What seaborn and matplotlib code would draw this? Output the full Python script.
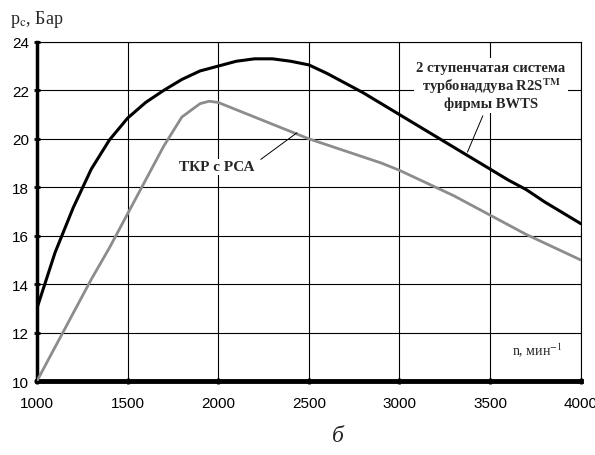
import pandas as pd
import matplotlib
matplotlib.use("Agg")
from matplotlib import pyplot as plt
import seaborn as sns

# engine speed, rpm
n_rpm = [1000, 1100, 1200, 1300, 1400, 1500, 1600, 1700, 1800, 1900, 1950, 2000,
         2100, 2200, 2300, 2400, 2500, 2600, 2700, 2800, 2900, 3000, 3100, 3200,
         3300, 3400, 3500, 3600, 3700, 3800, 3900, 4000]
# boost pressure, two-stage R2S system
p_r2s = [13.0, 15.3, 17.15, 18.75, 19.95, 20.85, 21.5, 22.0, 22.45, 22.8, 22.9, 23.0,
         23.2, 23.3, 23.3, 23.2, 23.05, 22.7, 22.3, 21.9, 21.45, 21.0, 20.55, 20.1,
         19.65, 19.2, 18.75, 18.3, 17.9, 17.4, 16.95, 16.5]
# boost pressure, turbocharger with variable nozzle
p_tkr = [10.0, 11.4, 12.8, 14.2, 15.5, 16.9, 18.3, 19.7, 20.9, 21.45, 21.55, 21.5,
         21.2, 20.9, 20.6, 20.3, 20.0, 19.75, 19.5, 19.25, 19.0, 18.7, 18.35, 18.0,
         17.65, 17.25, 16.85, 16.45, 16.05, 15.7, 15.35, 15.0]

x_ticks = [1000, 1500, 2000, 2500, 3000, 3500, 4000]
y_ticks = [10, 12, 14, 16, 18, 20, 22, 24]

df = pd.DataFrame({"n": n_rpm * 2,
                   "p": p_r2s + p_tkr,
                   "sys": ["r2s"] * len(n_rpm) + ["tkr"] * len(n_rpm)})

sns.set_style("white")
plt.rcParams["font.family"] = ["Liberation Sans", "DejaVu Sans"]
plt.rcParams["mathtext.fontset"] = "stix"

fig = plt.figure(figsize=(5.95, 4.56), dpi=100)
ax = fig.add_axes([0.062, 0.162, 0.914, 0.744])

ax.grid(True, color="black", linewidth=0.8)
ax.set_axisbelow(True)
sns.lineplot(data=df, x="n", y="p", hue="sys", palette={"r2s": "black", "tkr": "#8c8c8c"},
             linewidth=2.2, legend=False, ax=ax, zorder=3)
ax.lines[1].set_linewidth(2.0)

ax.set_xlim(1000, 4000)
ax.set_ylim(10, 24)
ax.set_xticks(x_ticks)
ax.set_yticks(y_ticks)
ax.set_xlabel("")
ax.set_ylabel("")
ax.tick_params(axis="both", labelsize=11, colors="black", direction="inout",
               length=5, width=2, pad=3, left=True, bottom=True)
ax.tick_params(axis="x", pad=8)
for side in ["top", "right"]:
    ax.spines[side].set_linewidth(0.8)
    ax.spines[side].set_color("black")
ax.spines["left"].set_linewidth(2.5)
ax.spines["bottom"].set_linewidth(3.5)
ax.spines["left"].set_color("black")
ax.spines["bottom"].set_color("black")

serif = ["Liberation Serif", "DejaVu Serif"]
fig.text(0.017, 0.948, "p$_{\\mathrm{с}}$, Бар", family=serif, fontsize=13, ha="left", va="baseline")
ax.text(3900, 10.9, "n, мин$^{-1}$", family=serif, fontsize=10, ha="right", va="bottom",
        bbox=dict(facecolor="white", edgecolor="none", pad=1))
fig.text(0.568, 0.03, "б", family=serif, style="italic", fontsize=17, ha="center")

# label of the turbocharger curve with its leader line
ax.text(1990, 18.85, "ТКР с РСА", family=serif, fontweight="bold", fontsize=11,
        ha="center", va="center", zorder=4,
        bbox=dict(facecolor="white", edgecolor="none", pad=1))
ax.annotate("", xy=(2435, 20.25), xytext=(2235, 19.15),
            arrowprops=dict(arrowstyle="-", color="black", lw=0.7, shrinkA=0, shrinkB=0))

# label of the two-stage system with its leader line
ax.text(3505, 22.2, "2 ступенчатая система\nтурбонаддува R2S$^{\\mathbf{TM}}$\nфирмы BWTS",
        family=serif, fontweight="bold", fontsize=10.5, ha="center", va="center",
        linespacing=1.15, zorder=4,
        bbox=dict(facecolor="white", edgecolor="none", pad=2))
ax.annotate("", xy=(3375, 19.45), xytext=(3460, 20.95),
            arrowprops=dict(arrowstyle="-", color="black", lw=0.7, shrinkA=0, shrinkB=0))

fig.savefig("out.png", dpi=100)
